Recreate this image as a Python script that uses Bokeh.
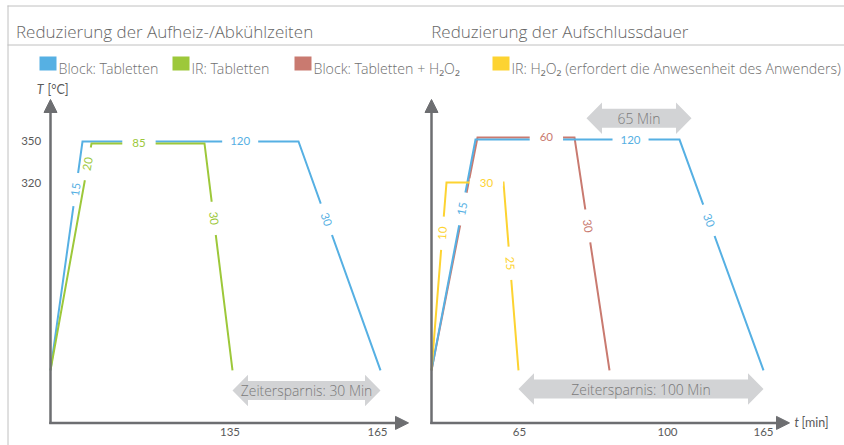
import math
from bokeh.plotting import figure
from bokeh.models import Range1d, ColumnDataSource, Arrow, NormalHead
from bokeh.core.properties import value
from bokeh.embed import file_html
from bokeh.resources import INLINE

# ---------------- data ----------------
titles = ["Reduzierung der Aufheiz-/Abkühlzeiten", "Reduzierung der Aufschlussdauer"]
legend_labels = ["Block: Tabletten", "IR: Tabletten", "Block: Tabletten + H₂O₂",
                 "IR: H₂O₂ (erfordert die Anwesenheit des Anwenders)"]

BLUE, GREEN, RED, YELLOW = "#56b0e3", "#9dc83a", "#c97a70", "#fdd331"
legend_colors = [BLUE, GREEN, RED, YELLOW]

# left panel (schematic time units / temperature)
blue_l_t = [0, 16, 124, 165]
blue_l_T = [186.5, 350, 350, 186.5]
blue_l_dur = ["15", "120", "30"]
green_l_t = [0, 20.5, 77, 91]
green_l_T = [186.5, 348.6, 348.6, 186.5]
green_l_dur = ["20", "85", "30"]

# right panel
blue_r_t = [0, 22, 124, 166]
blue_r_T = [186.5, 351.4, 351.4, 186.5]
blue_r_dur = ["15", "120", "30"]
red_r_t = [0, 23, 71.5, 89]
red_r_T = [186.5, 352.9, 352.9, 186.5]
red_r_dur = ["", "60", "30"]
yellow_r_t = [0, 7.5, 36, 43.5]
yellow_r_T = [186.5, 320.7, 320.7, 186.5]
yellow_r_dur = ["10", "30", "25"]

# where the duration label sits along each segment (fraction)
blue_l_pos = [0.79, 0.73, 0.34]
green_l_pos = [0.91, 0.42, 0.33]
blue_r_pos = [0.70, 0.76, 0.35]
red_r_pos = [0.0, 0.71, 0.38]
yellow_r_pos = [0.73, 0.70, 0.43]

y_ticks = [350, 320]
x_ticks_l = [89.75, 163.5]
x_tick_labels_l = ["135", "165"]
x_ticks_r = [44, 118, 166]
x_tick_labels_r = ["65", "100", "165"]

savings_l = ([91, 165], 172.1, "Zeitersparnis: 30 Min")
savings_r = ([43.5, 166], 173.2, "Zeitersparnis: 100 Min")
span_65 = ([77.5, 130], 366.6, "65 Min")

# ---------------- layout ----------------
W, H = 844, 445
TL = (-25.0, 397.0)
TR = (-215.5, 206.5)
TEMP = (132.857, 450.714)
SX = W / (TL[1] - TL[0])
SY = H / (TEMP[1] - TEMP[0])
T_AX0, T_AX1, t_AX1 = 149.0, 380.0, 179.0

AX = "#6d6e71"
FRAME = "#c0c0c0"
SANS = "'Open Sans Light', 'Open Sans', 'Liberation Sans'"
NUM = "Lato"

p = figure(width=W, height=H, output_backend="svg", toolbar_location=None,
           x_range=Range1d(0, W), y_range=Range1d(H, 0),
           x_axis_location=None, y_axis_location=None, min_border=0)
p.extra_x_ranges = {"tl": Range1d(*TL), "tr": Range1d(*TR)}
p.extra_y_ranges = {"temp": Range1d(*TEMP)}
p.grid.visible = False
p.outline_line_color = None
p.background_fill_color = "white"
p.border_fill_color = "white"

# frame lines
p.segment(x0=[7, 7, 7.5], y0=[5.5, 44.5, 5], x1=[W, W, 7.5], y1=[5.5, 44.5, H],
          line_color=FRAME, line_width=1)

# titles
p.text(x=[15.5, 430.7], y=[30.5, 30.5], text=titles, text_font=value(SANS),
       text_font_size="17px", text_color="#666666", text_baseline="alphabetic")

# legend
sq_left = [39, 172, 294, 492]
p.quad(left=sq_left, right=[v + 17 for v in sq_left], top=[56] * 4, bottom=[70] * 4,
       fill_color=legend_colors, line_color=None)
p.text(x=[v + 19 for v in sq_left], y=[68] * 4, text=legend_labels, text_font=value(SANS),
       text_font_size="14.2px", text_color="#707070", text_baseline="alphabetic")


def double_arrow(span, tc, rng, txt):
    t0, t1 = span
    hl, hh, sh = 15.5 / SX, 15.7 / SY, 9.5 / SY
    xs = [t0, t0 + hl, t0 + hl, t1 - hl, t1 - hl, t1, t1 - hl, t1 - hl, t0 + hl, t0 + hl]
    ys = [tc, tc + hh, tc + sh, tc + sh, tc + hh, tc, tc - hh, tc - sh, tc - sh, tc - hh]
    p.patch(xs, ys, x_range_name=rng, y_range_name="temp", fill_color="#d2d3d5", line_color=None)
    p.text(x=[(t0 + t1) / 2], y=[tc], text=[txt], x_range_name=rng, y_range_name="temp",
           text_font=value(SANS), text_font_size="13.9px", text_color="#7a7a7a",
           text_align="center", text_baseline="middle")


for (span, tc, txt), rng in [(savings_l, "tl"), (savings_r, "tr"), (span_65, "tr")]:
    double_arrow(span, tc, rng, txt)

# series lines
series = [
    ("tl", blue_l_t, blue_l_T, blue_l_dur, blue_l_pos, BLUE),
    ("tl", green_l_t, green_l_T, green_l_dur, green_l_pos, GREEN),
    ("tr", red_r_t, red_r_T, red_r_dur, red_r_pos, RED),
    ("tr", blue_r_t, blue_r_T, blue_r_dur, blue_r_pos, BLUE),
    ("tr", yellow_r_t, yellow_r_T, yellow_r_dur, yellow_r_pos, YELLOW),
]
for rng, ts, Ts, _, _, col in series:
    p.line(ts, Ts, x_range_name=rng, y_range_name="temp", line_color=col, line_width=2,
           line_join="miter")

# duration labels (white box makes the gap in the lines)
groups = {}
for rng, ts, Ts, durs, fracs, col in series:
    for i, (d, f) in enumerate(zip(durs, fracs)):
        if not d:
            continue
        t0, t1, T0, T1 = ts[i], ts[i + 1], Ts[i], Ts[i + 1]
        key = (rng, len(d))
        g = groups.setdefault(key, dict(x=[], y=[], text=[], angle=[], color=[]))
        g["x"].append(t0 + f * (t1 - t0))
        g["y"].append(T0 + f * (T1 - T0))
        g["text"].append(d)
        g["angle"].append(math.atan2((T1 - T0) * SY, (t1 - t0) * SX))
        g["color"].append(col)
for (rng, n), g in groups.items():
    pad = 10 if n == 2 else 8
    p.text(x="x", y="y", text="text", angle="angle", text_color="color",
           source=ColumnDataSource(g), x_range_name=rng, y_range_name="temp",
           text_font=value(NUM), text_font_size="11.5px", text_align="center",
           text_baseline="middle", background_fill_color="white", padding=(pad, 0))

# axes with arrow heads
for rng in ["tl", "tr"]:
    p.add_layout(Arrow(x_start=0, y_start=T_AX0 - 1.2 / SY, x_end=0, y_end=T_AX1,
                       x_range_name=rng, y_range_name="temp", line_width=2.5, line_color=AX,
                       end=NormalHead(size=13, fill_color=AX, line_color=AX, line_width=1)))
    p.add_layout(Arrow(x_start=-1.2 / SX, y_start=T_AX0, x_end=t_AX1, y_end=T_AX0,
                       x_range_name=rng, y_range_name="temp", line_width=2.5, line_color=AX,
                       end=NormalHead(size=13, fill_color=AX, line_color=AX, line_width=1)))

# tick labels
p.text(x=[0] * len(y_ticks), y=y_ticks, text=[str(v) for v in y_ticks], x_range_name="tl",
       y_range_name="temp", x_offset=-9.3, text_font=value(NUM), text_font_size="11.5px",
       text_color="#5a5a5a", text_align="right", text_baseline="middle")
for rng, ticks, labels in [("tl", x_ticks_l, x_tick_labels_l), ("tr", x_ticks_r, x_tick_labels_r)]:
    p.text(x=ticks, y=[T_AX0] * len(ticks), text=labels, x_range_name=rng, y_range_name="temp",
           y_offset=9, text_font=value(NUM), text_font_size="11.5px", text_color="#5a5a5a",
           text_align="center", text_baseline="middle")

# axis titles
p.text(x=[0], y=[T_AX1], text=["T"], x_range_name="tl", y_range_name="temp", x_offset=-7,
       y_offset=-10, text_font=value(NUM), text_font_style="italic", text_font_size="12.5px",
       text_color="#5a5a5a", text_align="right", text_baseline="middle")
p.text(x=[0], y=[T_AX1], text=["[°C]"], x_range_name="tl", y_range_name="temp", x_offset=-3,
       y_offset=-10, text_font=value(NUM), text_font_size="12.5px",
       text_color="#5a5a5a", text_align="left", text_baseline="middle")
p.text(x=[t_AX1], y=[T_AX0], text=["t"], x_range_name="tr", y_range_name="temp", x_offset=5,
       text_font=value(NUM), text_font_style="italic", text_font_size="12.5px",
       text_color="#5a5a5a", text_align="left", text_baseline="middle")
p.text(x=[t_AX1], y=[T_AX0], text=["[min]"], x_range_name="tr", y_range_name="temp", x_offset=12,
       text_font=value(NUM), text_font_size="12.5px",
       text_color="#5a5a5a", text_align="left", text_baseline="middle")

open("out.html", "w").write(file_html(p, INLINE))
